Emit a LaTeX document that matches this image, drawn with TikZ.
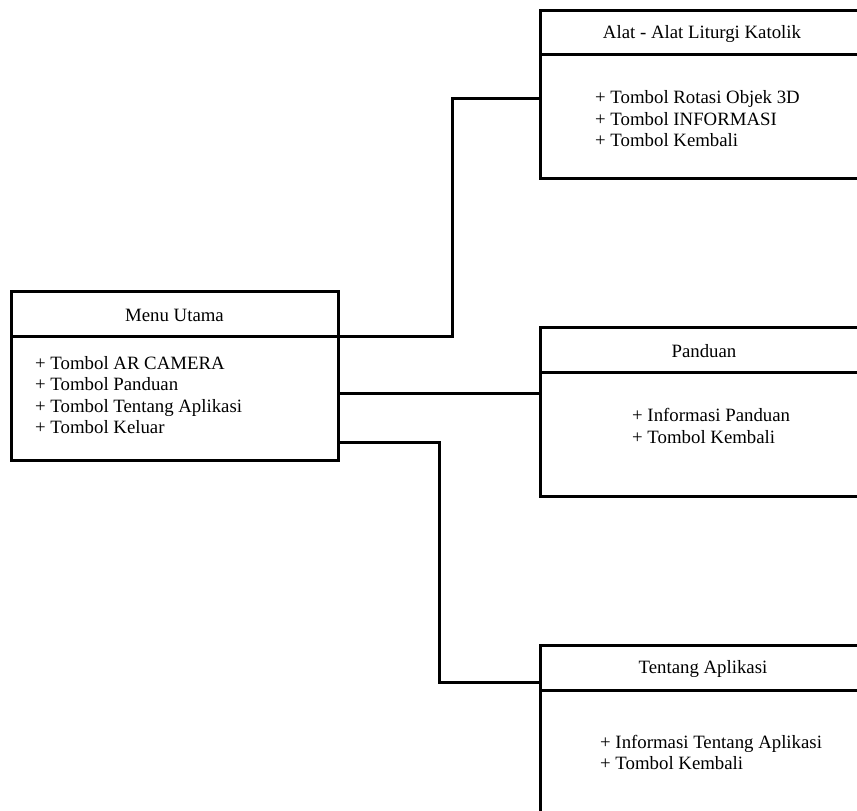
\documentclass[tikz,border=0pt]{standalone}
\usepackage{fontspec}
\setmainfont{Liberation Serif}
\usetikzlibrary{calc}
\begin{document}
\begin{tikzpicture}[x=1pt,y=-1pt,
  box/.style={draw, line width=3pt, rectangle, inner sep=0pt, outer sep=0pt, minimum width=330pt, minimum height=169pt},
  hdr/.style={font=\fontsize{18.8}{21.5}\selectfont, inner sep=0pt},
  items/.style={font=\fontsize{18.8}{21.5}\selectfont, align=left, anchor=west, inner sep=0pt},
  divider/.style={line width=3pt},
  link/.style={draw, line width=3pt, line join=miter}]
\useasboundingbox (0,0) rectangle (857,811);
\clip (0,0) rectangle (857,811);
% boxes
\node[box, minimum width=327pt] (menu) at (174.5,375.5) {};
\node[box, minimum height=168pt] (alat) at (705,94) {};
\node[box] (pand) at (705,411.5) {};
\node[box, minimum height=168pt] (tent) at (705,729) {};
% dividers
\draw[divider] ($(menu.north west)+(0,45)$) -- ($(menu.north east)+(0,45)$);
\draw[divider] ($(alat.north west)+(0,44)$) -- ($(alat.north east)+(0,44)$);
\draw[divider] ($(pand.north west)+(0,45)$) -- ($(pand.north east)+(0,45)$);
\draw[divider] ($(tent.north west)+(0,45)$) -- ($(tent.north east)+(0,45)$);
% headers
\node[hdr] (menuH) at ($(menu.north)+(0,24)$) {Menu Utama};
\node[hdr] (alatH) at ($(alat.north)+(-3,24)$) {Alat - Alat Liturgi Katolik};
\node[hdr] (pandH) at ($(pand.north)+(-1,24)$) {Panduan};
\node[hdr] (tentH) at ($(tent.north)+(-2,24)$) {Tentang Aplikasi};
% items
\node[items] (menuI) at (35,395) {+ Tombol AR CAMERA\\+ Tombol Panduan\\+ Tombol Tentang Aplikasi\\+ Tombol Keluar};
\node[items] (alatI) at (595,119) {+ Tombol Rotasi Objek 3D\\+ Tombol INFORMASI\\+ Tombol Kembali};
\node[items] (pandI) at (632,426) {+ Informasi Panduan\\+ Tombol Kembali};
\node[items] (tentI) at (600,752.5) {+ Informasi Tentang Aplikasi\\+ Tombol Kembali};
% connectors
\coordinate (m1) at ($(menu.north east)+(0,45)$);
\coordinate (m2) at ($(menu.north east)+(0,102)$);
\coordinate (m3) at ($(menu.north east)+(0,151)$);
\coordinate (j1) at (452,98);
\coordinate (j3) at (439,682);
\draw[link] (m1) -| (j1) -- (alat.west |- j1);
\draw[link] (m2) -- (pand.west |- m2);
\draw[link] (m3) -| (j3) -- (tent.west |- j3);
\end{tikzpicture}
\end{document}
